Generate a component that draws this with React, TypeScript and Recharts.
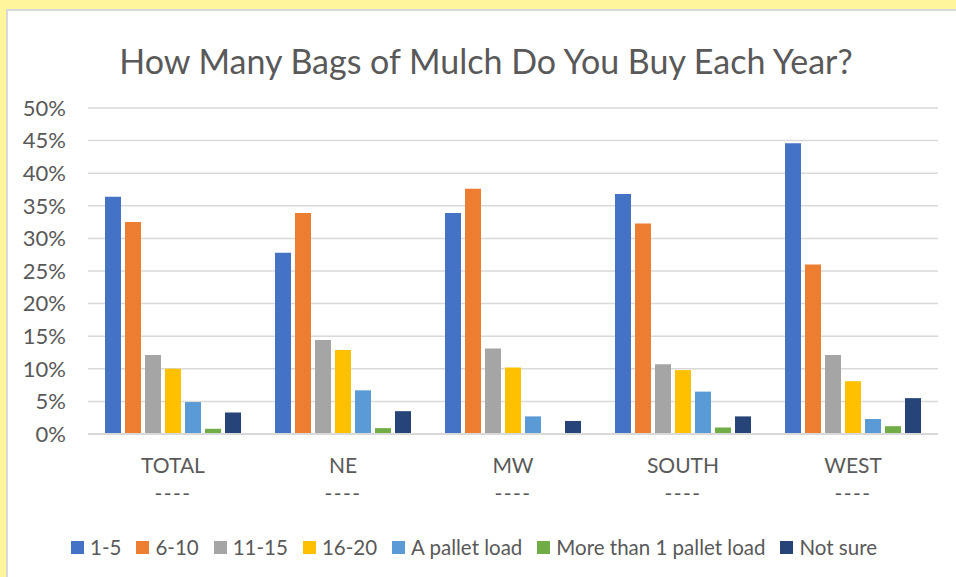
import React from 'react';
import { BarChart, Bar, XAxis, YAxis, CartesianGrid, Legend } from 'recharts';

const categories = ['TOTAL', 'NE', 'MW', 'SOUTH', 'WEST'];
const subLabels = ['----', '----', '----', '----', '----'];
const s1to5 = [36.4, 27.8, 33.9, 36.8, 44.6];
const s6to10 = [32.5, 33.9, 37.6, 32.3, 26.0];
const s11to15 = [12.1, 14.4, 13.1, 10.7, 12.1];
const s16to20 = [10.0, 12.9, 10.2, 9.8, 8.1];
const sPallet = [4.9, 6.7, 2.7, 6.5, 2.3];
const sMore = [0.8, 0.9, 0, 1.0, 1.2];
const sNotSure = [3.3, 3.5, 2.0, 2.7, 5.5];
const yTicks = [0, 5, 10, 15, 20, 25, 30, 35, 40, 45, 50];

const seriesNames = ['1-5', '6-10', '11-15', '16-20', 'A pallet load', 'More than 1 pallet load', 'Not sure'];
const seriesValues = [s1to5, s6to10, s11to15, s16to20, sPallet, sMore, sNotSure];
const colors = ['#4472C4', '#ED7D31', '#A5A5A5', '#FFC000', '#5B9BD5', '#70AD47', '#264478'];

const data = categories.map((c, i) => {
  const row: any = { name: c, sub: subLabels[i] };
  seriesNames.forEach((n, k) => { row[n] = seriesValues[k][i]; });
  return row;
});

const FONT = 'Lato, "Open Sans", sans-serif';
const TXT = '#595959';

const XTick = (props: any) => {
  const { x, y, payload } = props;
  return (
    <g transform={`translate(${x},${y})`}>
      <text x={0} y={0} dy={31} textAnchor="middle" fill={TXT} fontSize={21} fontFamily={FONT}>{payload.value}</text>
      <text x={0} y={0} dy={59} textAnchor="middle" fill={TXT} fontSize={21} fontFamily={FONT} letterSpacing={1.5}>{subLabels[payload.index]}</text>
    </g>
  );
};

const LegendContent = (props: any) => {
  const payload = [...(props.payload || [])].sort(
    (a: any, b: any) => seriesNames.indexOf(a.value) - seriesNames.indexOf(b.value)
  );
  return (
    <div style={{ display: 'flex', alignItems: 'center', fontFamily: FONT, fontSize: 20.5, color: TXT, whiteSpace: 'nowrap' }}>
      {payload.map((p: any, i: number) => (
        <div key={i} style={{ display: 'flex', alignItems: 'center', marginRight: 15 }}>
          <div style={{ width: 13, height: 13, background: p.color, marginRight: 6 }} />
          <span>{p.value}</span>
        </div>
      ))}
    </div>
  );
};

export default function App() {
  return (
    <div style={{ position: 'absolute', left: 0, top: 0, width: 956, height: 577, background: '#FFF59D', overflow: 'hidden' }}>
      <div style={{ position: 'absolute', left: 6, top: 9, width: 980, height: 600, background: '#fff', borderTop: '2px solid #D9D9D9', borderLeft: '2px solid #D9D9D9' }} />
      <div style={{ position: 'absolute', left: 0, width: 956, textAlign: 'center', paddingLeft: 16, boxSizing: 'border-box', top: 40, fontFamily: FONT, fontSize: 34, color: TXT, lineHeight: '42px' }}>
        How Many Bags of Mulch Do You Buy Each Year?
      </div>
      <div style={{ position: 'absolute', left: 0, top: 0 }}>
        <BarChart width={956} height={577} data={data} margin={{ top: 108, right: 18, bottom: 63, left: 8 }} barSize={16} barGap={4}>
          <CartesianGrid vertical={false} stroke="#D9D9D9" strokeWidth={1.5} />
          <XAxis dataKey="name" axisLine={{ stroke: '#D9D9D9', strokeWidth: 2 }} tickLine={false} height={80} interval={0} tick={<XTick />} />
          <YAxis width={80} domain={[0, 50]} ticks={yTicks} axisLine={false} tickLine={false} tickFormatter={(v: number) => `${v}%`} tick={{ fill: TXT, fontSize: 22, fontFamily: FONT, dx: -14 }} />
          <Legend layout="horizontal" verticalAlign="middle" align="center" wrapperStyle={{ top: 535, left: 71, width: 880, height: 24 }} content={<LegendContent />} />
          {seriesNames.map((n, k) => (
            <Bar key={n} dataKey={n} fill={colors[k]} isAnimationActive={false} />
          ))}
        </BarChart>
      </div>
    </div>
  );
}
